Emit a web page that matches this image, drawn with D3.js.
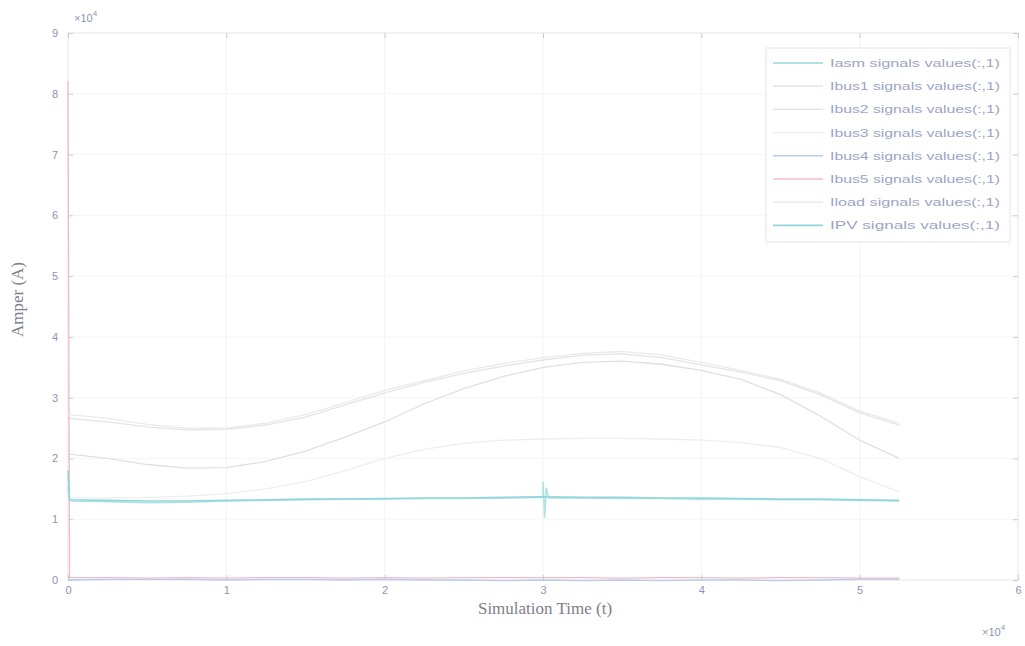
<!DOCTYPE html>
<html>
<head>
<meta charset="utf-8">
<script src="https://cdn.jsdelivr.net/npm/d3@7"></script>
<style>
  html, body { margin: 0; padding: 0; background: #fff; }
  svg { display: block; }
</style>
</head>
<body>
<svg id="chart" width="1025" height="646"></svg>
<script>
// Simulation time grid (units of 1e4 s)
const time = [0, 0.01, 0.25, 0.5, 0.75, 1.0, 1.25, 1.5, 1.75, 2.0, 2.25, 2.5, 2.75, 3.0, 3.25, 3.5, 3.75, 4.0, 4.25, 4.5, 4.75, 5.0, 5.25];

// Current signals (units of 1e4 A)
const iasm  = [1.55, 1.30, 1.29, 1.27, 1.28, 1.30, 1.31, 1.32, 1.33, 1.33, 1.34, 1.34, 1.35, 1.36, 1.35, 1.34, 1.34, 1.33, 1.33, 1.32, 1.32, 1.31, 1.30];
const ibus1 = [2.68, 2.66, 2.60, 2.52, 2.47, 2.48, 2.55, 2.68, 2.88, 3.08, 3.25, 3.40, 3.52, 3.62, 3.70, 3.72, 3.66, 3.54, 3.42, 3.28, 3.05, 2.75, 2.55];
const ibus2 = [2.08, 2.07, 2.00, 1.90, 1.84, 1.85, 1.95, 2.12, 2.35, 2.60, 2.90, 3.15, 3.35, 3.50, 3.58, 3.60, 3.55, 3.45, 3.30, 3.05, 2.70, 2.30, 2.00];
const ibus3 = [1.36, 1.35, 1.35, 1.36, 1.38, 1.42, 1.50, 1.62, 1.80, 2.00, 2.15, 2.25, 2.30, 2.32, 2.33, 2.33, 2.32, 2.30, 2.26, 2.18, 2.00, 1.70, 1.45];
const ibus4 = [0.00, 0.00, 0.01, 0.01, 0.01, 0.00, 0.01, 0.01, 0.00, 0.01, 0.00, 0.00, -0.01, 0.00, -0.01, 0.00, -0.01, 0.00, 0.00, -0.01, 0.00, 0.01, 0.01];
const ibus5 = [8.20, 0.04, 0.04, 0.03, 0.04, 0.03, 0.04, 0.04, 0.03, 0.04, 0.03, 0.04, 0.04, 0.04, 0.04, 0.03, 0.04, 0.04, 0.03, 0.04, 0.04, 0.03, 0.03];
const iload = [2.75, 2.72, 2.66, 2.56, 2.50, 2.50, 2.58, 2.72, 2.92, 3.12, 3.28, 3.44, 3.56, 3.66, 3.73, 3.76, 3.70, 3.58, 3.45, 3.30, 3.08, 2.78, 2.58];
const ipv   = [1.80, 1.32, 1.31, 1.30, 1.30, 1.31, 1.32, 1.33, 1.33, 1.34, 1.35, 1.35, 1.36, 1.37, 1.36, 1.36, 1.35, 1.35, 1.34, 1.33, 1.33, 1.32, 1.31];

// Short transient around t = 3 on the machine current
const iasmStepTime  = [2.985, 3.0, 3.01, 3.02, 3.035];
const iasmStepValue = [1.36, 1.62, 1.02, 1.52, 1.35];

const seriesNames = ["Iasm", "Ibus1", "Ibus2", "Ibus3", "Ibus4", "Ibus5", "Iload", "IPV"];
const seriesValues = [iasm, ibus1, ibus2, ibus3, ibus4, ibus5, iload, ipv];
const seriesColors = ["#ade3e3", "#e4e4e6", "#e0e0e2", "#eeeef0", "#b8cbee", "#f2bcc5", "#e8ebe8", "#92d6dc"];

const xTicks = [0, 1, 2, 3, 4, 5, 6];
const yTicks = [0, 1, 2, 3, 4, 5, 6, 7, 8, 9];

const svg = d3.select("#chart");
const margin = { left: 68, top: 33, right: 1018, bottom: 580 };

const x = d3.scaleLinear().domain([0, 6]).range([margin.left, margin.right]);
const y = d3.scaleLinear().domain([0, 9]).range([margin.bottom, margin.top]);

// Grid
const grid = svg.append("g");
grid.selectAll("line.gx").data(xTicks.slice(1, -1)).join("line")
  .attr("x1", d => x(d)).attr("x2", d => x(d))
  .attr("y1", y(9)).attr("y2", y(0))
  .attr("stroke", "#f3f3f5").attr("stroke-width", 1);
grid.selectAll("line.gy").data(yTicks.slice(1, -1)).join("line")
  .attr("x1", x(0)).attr("x2", x(6))
  .attr("y1", d => y(d)).attr("y2", d => y(d))
  .attr("stroke", "#f6f6f8").attr("stroke-width", 1);

// Box
svg.append("rect")
  .attr("x", x(0)).attr("y", y(9))
  .attr("width", x(6) - x(0)).attr("height", y(0) - y(9))
  .attr("fill", "none").attr("stroke", "#e4e6ec").attr("stroke-width", 1);

// Lines
const line = d3.line().x(d => x(d[0])).y(d => y(d[1]));
const plot = svg.append("g");
seriesValues.forEach((vals, i) => {
  let pts = time.map((t, k) => [t, vals[k]]);
  if (i === 0) {
    pts = pts.concat(iasmStepTime.map((t, k) => [t, iasmStepValue[k]])).sort((a, b) => a[0] - b[0]);
  }
  plot.append("path")
    .datum(pts)
    .attr("fill", "none")
    .attr("stroke", seriesColors[i])
    .attr("stroke-width", i === 0 || i === 7 ? 1.6 : 1.3)
    .attr("d", line);
});

// Axes
const tickColor = "#8c94b4";
const xAxisB = d3.axisBottom(x).tickValues(xTicks).tickSize(-5).tickPadding(6).tickFormat(d3.format("d"));
const xAxisT = d3.axisTop(x).tickValues(xTicks).tickSize(-5).tickFormat("");
const yAxisL = d3.axisLeft(y).tickValues(yTicks).tickSize(-5).tickPadding(10).tickFormat(d3.format("d"));
const yAxisR = d3.axisRight(y).tickValues(yTicks).tickSize(-5).tickFormat("");

function styleAxis(g) {
  g.select(".domain").remove();
  g.selectAll(".tick line").attr("stroke", "#c8ccd8");
  g.selectAll(".tick text").attr("fill", tickColor)
    .style("font-family", "'Liberation Sans', Arial, sans-serif").style("font-size", "11px");
}
svg.append("g").attr("transform", `translate(0,${y(0)})`).call(xAxisB).call(styleAxis);
svg.append("g").attr("transform", `translate(0,${y(9)})`).call(xAxisT).call(styleAxis);
svg.append("g").attr("transform", `translate(${x(0)},0)`).call(yAxisL).call(styleAxis);
svg.append("g").attr("transform", `translate(${x(6)},0)`).call(yAxisR).call(styleAxis);

// Exponent labels
function exponent(px, py) {
  const t = svg.append("text").attr("x", px).attr("y", py)
    .attr("fill", tickColor)
    .style("font-family", "'Liberation Sans', Arial, sans-serif").style("font-size", "11px");
  t.append("tspan").text("\u00d710");
  t.append("tspan").attr("dy", -6).style("font-size", "8px").text("4");
}
exponent(74, 22);
exponent(982, 636);

// Axis titles
const serif = "'Liberation Serif', 'Times New Roman', serif";
svg.append("text")
  .attr("x", (x(0) + x(6)) / 2 + 2).attr("y", 614)
  .attr("text-anchor", "middle")
  .attr("fill", "#7e8088")
  .style("font-family", serif).style("font-size", "17px")
  .text("Simulation Time (t)");
svg.append("text")
  .attr("transform", `translate(23,${(y(0) + y(9)) / 2 - 7}) rotate(-90)`)
  .attr("text-anchor", "middle")
  .attr("fill", "#7e8088")
  .style("font-family", serif).style("font-size", "17px")
  .text("Amper (A)");

// Legend
const legend = svg.append("g");
legend.append("rect")
  .attr("x", 766).attr("y", 48).attr("width", 244).attr("height", 194)
  .attr("fill", "#fff").attr("stroke", "#e2e4ea").attr("stroke-width", 1);
seriesNames.forEach((name, i) => {
  const ly = 63 + i * 23.2;
  legend.append("line")
    .attr("x1", 773).attr("x2", 823).attr("y1", ly).attr("y2", ly)
    .attr("stroke", seriesColors[i]).attr("stroke-width", i === 0 || i === 7 ? 1.8 : 1.4);
  legend.append("text")
    .attr("x", 830).attr("y", ly + 4)
    .attr("fill", "#9ca4c6")
    .style("font-family", "'Liberation Sans', Arial, sans-serif").style("font-size", "11.5px")
    .attr("textLength", 170).attr("lengthAdjust", "spacingAndGlyphs")
    .text(`${name} signals values(:,1)`);
});
</script>
</body>
</html>
